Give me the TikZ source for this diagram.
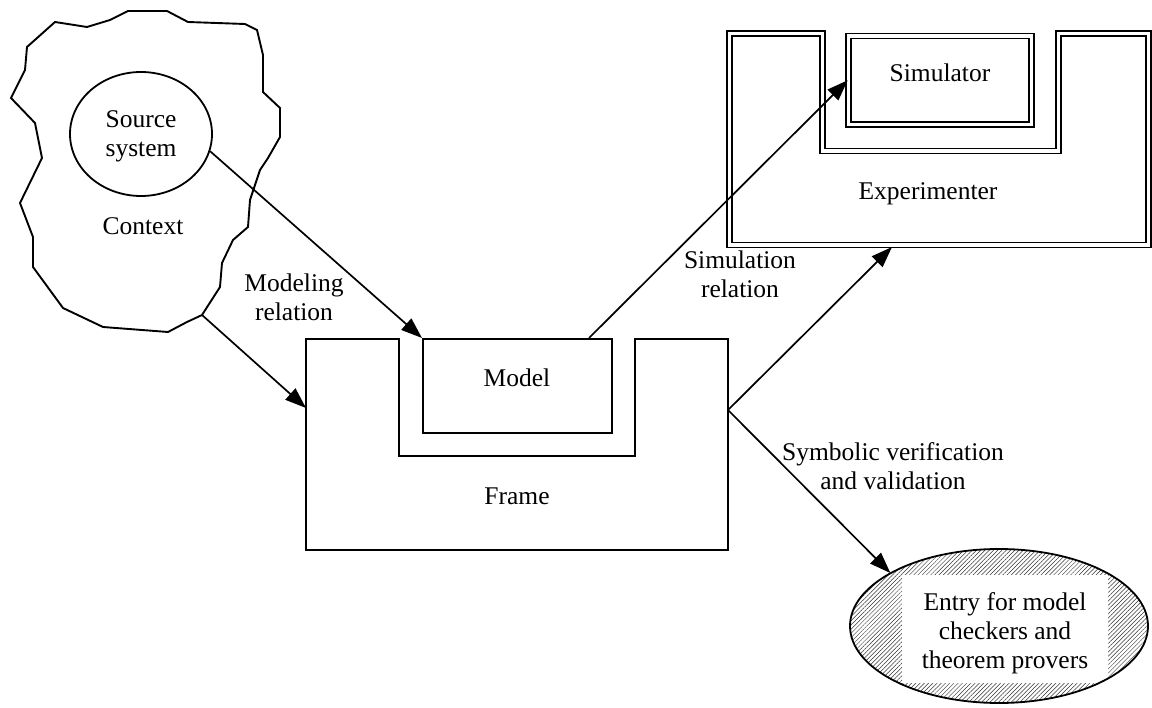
\documentclass[tikz,border=0pt]{standalone}
\usepackage{fontspec}
\setmainfont{Liberation Serif}
\usetikzlibrary{arrows.meta,patterns.meta,shapes.geometric}

\begin{document}
\begin{tikzpicture}[x=1pt, y=-1pt, line join=miter,
    lbl/.style={inner sep=0pt, anchor=base, align=center, font=\fontsize{25.5}{29}\selectfont},
    box/.style={draw, line width=2pt},
    dbl/.style={draw, line width=1.5pt, double, double distance=3.2pt},
    rel/.style={line width=1.7pt, -{Triangle[length=21pt,width=15pt]}}]
\useasboundingbox (0,0) rectangle (1152,708);
% Draw context cloud
\draw[line width=1.9pt] (55,22) -- (87,27) -- (110,20) -- (128,11) -- (167,11) -- (188,22)
    -- (245,24) -- (257,30) -- (263,55) -- (263,92) -- (280,108) -- (280,137) -- (268,158)
    -- (260,170) -- (250,200) -- (248,227) -- (233,240) -- (222,263) -- (220,287)
    -- (202,315) coordinate (ctx-tip) -- (187,322) -- (168,332) -- (103,327) -- (63,308)
    -- (33,267) -- (33,237) -- (20,203) -- (42,158) -- (35,123) -- (11,98) -- (25,70)
    -- (27,47) -- cycle;
\node[ellipse, draw, line width=1.8pt, minimum width=142pt, minimum height=124pt, inner sep=0pt] (src) at (141,134) {};
\node[lbl] at (141,157) {Source\\system};
\node[lbl] at (143,235) {Context};
% Draw frame and model
\draw[box] (306,339) -- (399,339) -- (399,456) -- (635,456) -- (635,339) -- (728,339)
    -- (728,550) -- (306,550) -- cycle;
\coordinate (frame-w) at (306,408);
\coordinate (frame-e) at (728,410);
\node[box, minimum width=189pt, minimum height=94pt, inner sep=0pt] (model) at (517.5,386) {};
\node[lbl] at (517,387) {Model};
\node[lbl] at (517,505) {Frame};
% Draw experimenter and simulator
\draw[dbl] (729.5,33.5) -- (822.5,33.5) -- (822.5,151) -- (1058.5,151) -- (1058.5,33.5)
    -- (1148.5,33.5) -- (1148.5,245) -- (729.5,245) -- cycle;
\coordinate (exp-s) at (892,247);
\node[dbl, minimum width=183pt, minimum height=88.5pt, inner sep=0pt] (sim) at (940,80.25) {};
\node[lbl] at (940,82) {Simulator};
\node[lbl] at (928,200) {Experimenter};
% Draw entry for checkers
\node[ellipse, minimum width=298pt, minimum height=154pt,
    pattern={Lines[angle=45,distance=3pt,line width=0.5pt]}, pattern color=black!80] (entry) at (999,626) {};
\node[fill=white, minimum width=206pt, minimum height=108pt, inner sep=0pt] (entry-box) at (1005,629) {};
\draw[line width=1.8pt] (entry.center) ellipse [x radius=149, y radius=77];
\node[lbl] at (1005,668) {Entry for model\\checkers and\\theorem provers};
% Draw relations
\draw[rel] (src.-14) -- (model.north west);
\draw[rel] (ctx-tip) -- (frame-w);
\draw[rel] ([xshift=-24pt]model.north east) -- (sim.west);
\draw[rel] (frame-e) -- (exp-s);
\draw[rel] (frame-e) -- (entry.154.5);
\node[lbl] at (294,321) {Modeling\\relation};
\node[lbl] at (740,298) {Simulation\\relation};
\node[lbl] at (893,490) {Symbolic verification\\and validation};
\end{tikzpicture}
\end{document}
